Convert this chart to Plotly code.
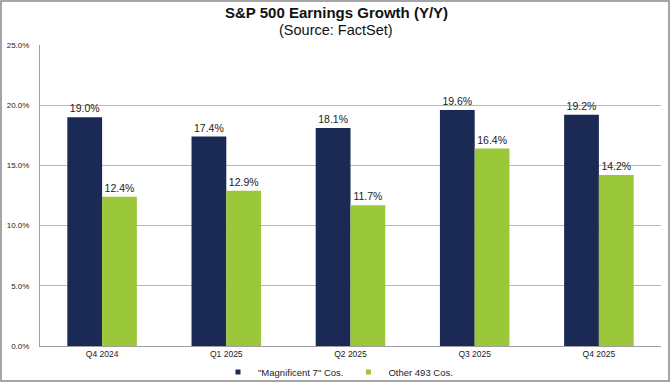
import plotly.graph_objects as go

categories = ["Q4 2024", "Q1 2025", "Q2 2025", "Q3 2025", "Q4 2025"]
mag7 = [19.0, 17.4, 18.1, 19.6, 19.2]
other493 = [12.4, 12.9, 11.7, 16.4, 14.2]
series_names = ['"Magnificent 7" Cos.', "Other 493 Cos."]
colors = ["#1a2a54", "#9bc83b"]
tick_vals = [0, 5, 10, 15, 20, 25]
tick_text = ["0.0%", "5.0%", "10.0%", "15.0%", "20.0%", "25.0%"]
title_text = "S&P 500 Earnings Growth (Y/Y)"
subtitle_text = "(Source: FactSet)"

W, H = 672, 384
L, R, T, B = 40, 11, 45, 38
pw, ph = W - L - R, H - T - B

fig = go.Figure()
for vals, name, col in zip([mag7, other493], series_names, colors):
    fig.add_trace(go.Bar(x=categories, y=vals, name=name, showlegend=False,
                         marker=dict(color=col, line=dict(width=0)),
                         text=[f"{v:.1f}%" for v in vals], textposition="outside",
                         textfont=dict(size=10.5, color="#222222", family="Arial"),
                         cliponaxis=False, hoverinfo="skip"))
for name, col in zip(series_names, colors):
    fig.add_trace(go.Scatter(x=[None], y=[None], mode="markers", name=name,
                             marker=dict(symbol="square", size=5, color=col)))

def px_x(x):
    return (x - L) / pw

def px_y(y):
    return (H - B - y) / ph

fig.update_layout(
    width=W, height=H,
    margin=dict(l=L, r=R, t=T, b=B, autoexpand=False),
    paper_bgcolor="white", plot_bgcolor="white",
    font=dict(family="Arial", color="#222222"),
    barmode="group", bargap=0.44, bargroupgap=0,
    showlegend=True,
    legend=dict(orientation="h", x=px_x(338), xanchor="center", y=px_y(372), yanchor="middle",
                font=dict(size=9.5, color="#222222"), traceorder="normal",
                itemwidth=30, bgcolor="rgba(0,0,0,0)"),
    xaxis=dict(showline=True, linecolor="#a0a0a0", linewidth=1, ticks="",
               tickfont=dict(size=8.5, color="#222222"), showgrid=False),
    yaxis=dict(range=[0, 25], tickvals=tick_vals, ticktext=tick_text,
               showgrid=True, gridcolor="#b8b8b8", gridwidth=1,
               showline=True, linecolor="#a0a0a0", zeroline=False,
               tickfont=dict(size=8, color="#222222"), ticks="",
               ticklabelstandoff=8),
    annotations=[
        dict(text=f"<b>{title_text}</b>", xref="paper", yref="paper",
             x=px_x(336), y=px_y(13), xanchor="center", yanchor="middle",
             showarrow=False, font=dict(size=15, color="#111111", family="Arial")),
        dict(text=subtitle_text, xref="paper", yref="paper",
             x=px_x(336), y=px_y(30), xanchor="center", yanchor="middle",
             showarrow=False, font=dict(size=14.5, color="#111111", family="Arial")),
    ],
    shapes=[dict(type="rect", xref="paper", yref="paper",
                 x0=px_x(1), x1=px_x(669), y0=px_y(381), y1=px_y(1),
                 line=dict(color="#888888", width=1.5), fillcolor="rgba(0,0,0,0)", layer="below")],
)
fig.write_html("out.html", config={"displayModeBar": False},
               post_script="document.body.style.margin='0';document.body.style.padding='0';document.body.style.overflow='hidden';")
